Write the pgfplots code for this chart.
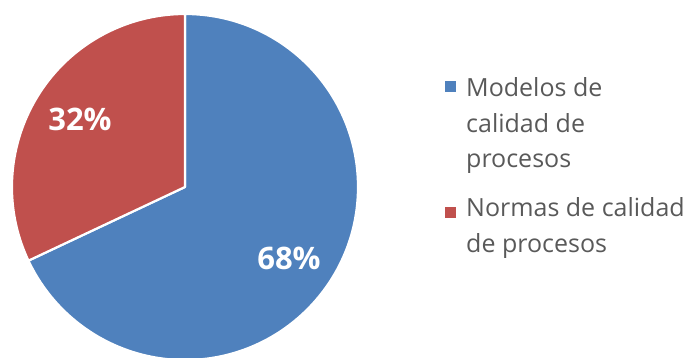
\documentclass[border=0pt]{standalone}
\usepackage{pgfplots}
\pgfplotsset{compat=1.18}
\usepackage{pgfplotstable}
\usepackage{fontspec}
\setmainfont{Open Sans}
\definecolor{sliceblue}{HTML}{4F81BD}
\definecolor{slicered}{HTML}{C0504D}
\definecolor{legtext}{HTML}{595959}
\pgfplotstableread{
value
68
32
}\piedata
\begin{document}
\begin{tikzpicture}
\useasboundingbox (0,0) rectangle (690bp,358bp);
\pgfplotstablegetelem{0}{value}\of\piedata \let\va\pgfplotsretval
\pgfplotstablegetelem{1}{value}\of\piedata \let\vb\pgfplotsretval
\pgfmathsetmacro{\angA}{90-3.6*\va}
\begin{axis}[
  at={(0,0)}, anchor=south west,
  scale only axis, width=690bp, height=358bp,
  xmin=0, xmax=690, ymin=0, ymax=358,
  hide axis, clip=true,
]
% blue slice: clockwise from 12 o'clock
\fill[sliceblue, draw=white, line width=2.2bp, line join=round]
  (axis cs:185,171) -- ++(90:173bp) arc[start angle=90, end angle=\angA, radius=173bp] -- cycle;
% red slice
\fill[slicered, draw=white, line width=2.2bp, line join=round]
  (axis cs:185,171) -- ++(\angA:173bp) arc[start angle=\angA, end angle=-270, radius=173bp] -- cycle;
\node[text=white, font=\fontsize{31bp}{36bp}\selectfont\bfseries] at (axis cs:80,239) {\vb\%};
\node[text=white, font=\fontsize{31bp}{36bp}\selectfont\bfseries] at (axis cs:289,100) {\va\%};
% legend
\fill[sliceblue] (axis cs:445,265.5) rectangle (axis cs:456,276.5);
\fill[slicered] (axis cs:445,139.5) rectangle (axis cs:456,150.5);
\node[anchor=base west, inner sep=0pt, text=legtext, font=\fontsize{25bp}{35.5bp}\selectfont] at (axis cs:466,261) {Modelos de};
\node[anchor=base west, inner sep=0pt, text=legtext, font=\fontsize{25bp}{35.5bp}\selectfont] at (axis cs:466,225.5) {calidad de};
\node[anchor=base west, inner sep=0pt, text=legtext, font=\fontsize{25bp}{35.5bp}\selectfont] at (axis cs:466,190) {procesos};
\node[anchor=base west, inner sep=0pt, text=legtext, font=\fontsize{25bp}{35.5bp}\selectfont] at (axis cs:466,141) {Normas de calidad};
\node[anchor=base west, inner sep=0pt, text=legtext, font=\fontsize{25bp}{35.5bp}\selectfont] at (axis cs:466,105) {de procesos};
\end{axis}
\end{tikzpicture}
\end{document}
